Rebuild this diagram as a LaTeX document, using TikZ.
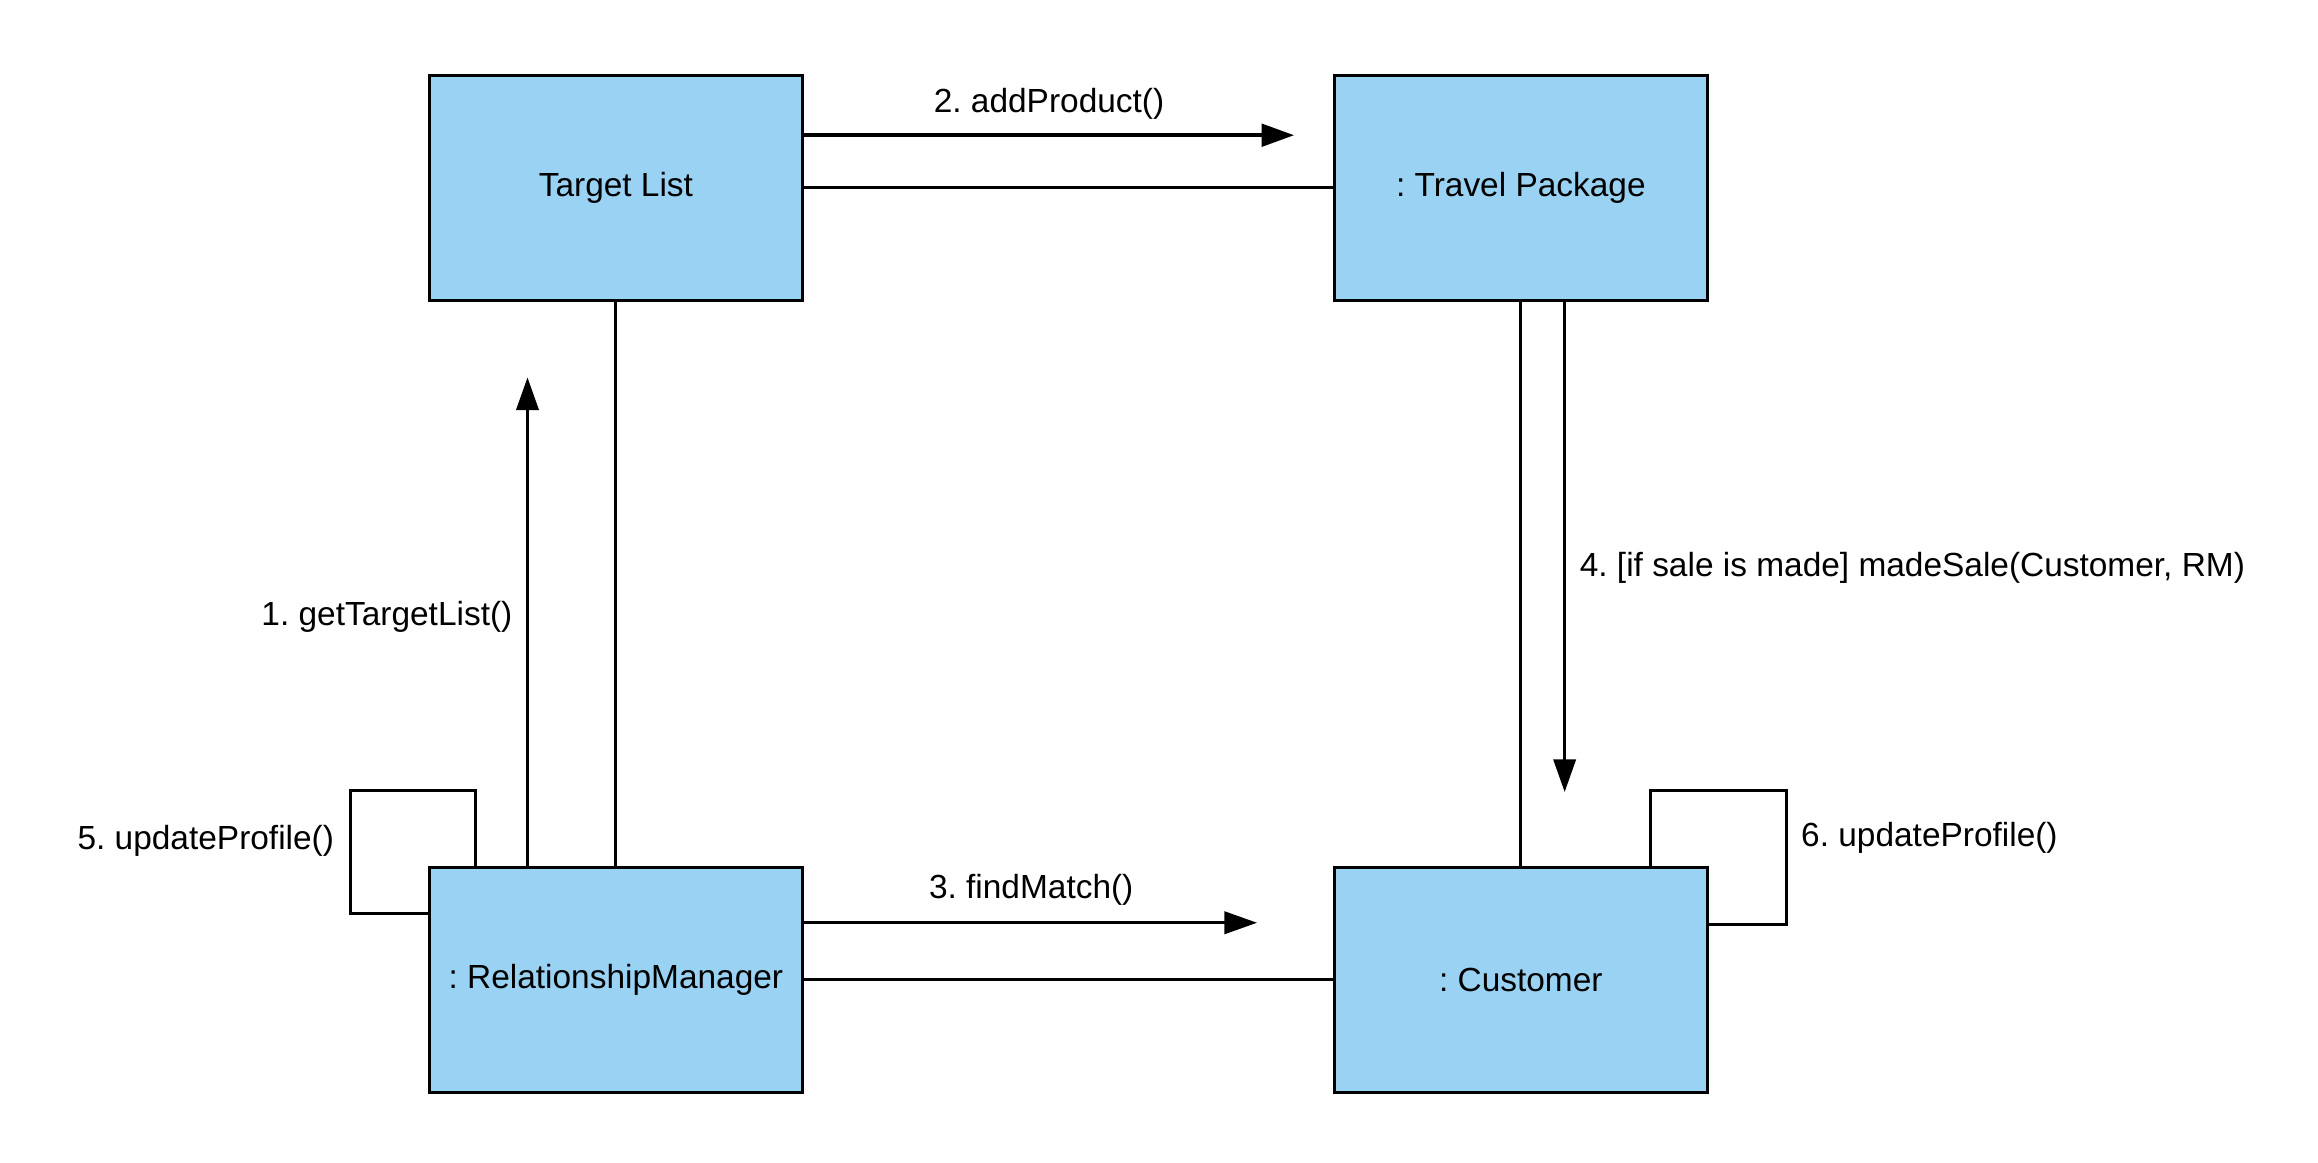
\documentclass[tikz,border=0pt]{standalone}
\usepackage{fontspec}
\setmainfont{Liberation Sans}
\usetikzlibrary{arrows.meta}
\definecolor{boxblue}{RGB}{154,210,243}
\frenchspacing
\begin{document}
\begin{tikzpicture}[x=1pt,y=-1pt,
  obj/.style={draw=black,line width=2pt,fill=boxblue,minimum width=251pt,minimum height=151pt,inner sep=0pt,font=\fontsize{22.5}{26}\selectfont},
  lbl/.style={font=\fontsize{22.5}{26}\selectfont,inner sep=0pt},
  conn/.style={line width=2pt},
  msg/.style={line width=2pt,-{Triangle[length=22pt,width=15pt]}},
  loop/.style={line width=2pt}]
\useasboundingbox (0,0) rectangle (1560,782.6);
\node[obj] (tl) at (414.5,126.5) {Target List};
\node[obj] (tp) at (1023.5,126.5) {: Travel Package};
\node[obj] (rm) at (414.5,659.5) {: RelationshipManager};
\node[obj] (cu) at (1023.5,659.5) {: Customer};
% associations
\draw[conn] (tl) -- (tp);
\draw[conn] (tl) -- (rm);
\draw[conn] (tp) -- (cu);
\draw[conn] (rm) -- (cu);
% message 2
\coordinate (a2s) at (tl.east |- 0,91);
\coordinate (a2e) at (871,91);
\draw[msg,line width=3pt] (a2s) -- (a2e);
\node[lbl] (l2) at (706,70) {2. addProduct()};
% message 1
\coordinate (a1s) at (355,0 |- rm.north);
\coordinate (a1e) at (355,254);
\draw[msg] (a1s) -- (a1e);
\node[lbl,anchor=east] (l1) at (345,415) {1. getTargetList()};
% message 3
\coordinate (a3s) at (rm.east |- 0,621);
\coordinate (a3e) at (846,621);
\draw[msg] (a3s) -- (a3e);
\node[lbl] (l3) at (694,599) {3. findMatch()};
% message 4
\coordinate (a4s) at (1053,0 |- tp.south);
\coordinate (a4e) at (1053,533);
\draw[msg] (a4s) -- (a4e);
\node[lbl,anchor=west] (l4) at (1063,382) {4. [if sale is made] madeSale(Customer, RM)};
% self loop 5
\coordinate (s5a) at (320,0 |- rm.north);
\coordinate (s5b) at (rm.west |- 0,615);
\draw[loop] (s5a) -- (320,532) -- (236,532) -- (236,615) -- (s5b);
\node[lbl,anchor=east] (l5) at (225,566) {5. updateProfile()};
% self loop 6
\coordinate (s6a) at (1111,0 |- cu.north);
\coordinate (s6b) at (cu.east |- 0,622);
\draw[loop] (s6a) -- (1111,532) -- (1202,532) -- (1202,622) -- (s6b);
\node[lbl,anchor=west] (l6) at (1212,564) {6. updateProfile()};
\end{tikzpicture}
\end{document}
